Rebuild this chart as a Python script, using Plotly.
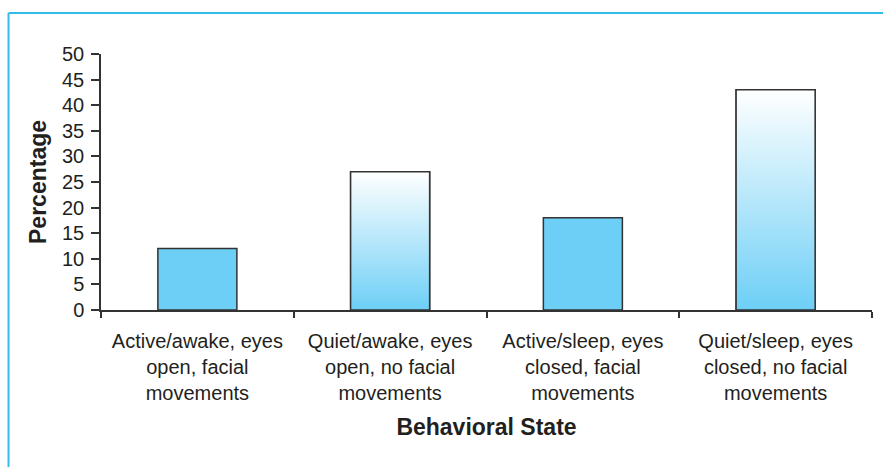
import plotly.graph_objects as go

# ---- data ----
categories = [
    "Active/awake, eyes<br>open, facial<br>movements",
    "Quiet/awake, eyes<br>open, no facial<br>movements",
    "Active/sleep, eyes<br>closed, facial<br>movements",
    "Quiet/sleep, eyes<br>closed, no facial<br>movements",
]
values = [12, 27, 18, 43]
gradient_flags = [False, True, False, True]
y_tick_vals = [0, 5, 10, 15, 20, 25, 30, 35, 40, 45, 50]
x_title = "Behavioral State"
y_title = "Percentage"

# ---- style ----
SOLID = "#6dcff6"
EDGE = "#333333"
TEXT = "#231f20"
FRAME = "#33bbea"
FONT = "Liberation Sans, Arial, Helvetica, sans-serif"
BAR_W = 0.41

W, H = 883, 467
ML, MR, MT, MB = 101, 11, 54, 157
PW, PH = W - ML - MR, H - MT - MB

fig = go.Figure()

fig.add_trace(go.Bar(
    x=categories, y=values, width=BAR_W,
    marker=dict(color=[("rgba(0,0,0,0)" if g else SOLID) for g in gradient_flags],
                line=dict(color=EDGE, width=1.5)),
    showlegend=False,
))

for i, (v, g) in enumerate(zip(values, gradient_flags)):
    if not g:
        continue
    x0, x1 = i - BAR_W / 2, i + BAR_W / 2
    fig.add_trace(go.Scatter(
        x=[x0, x1, x1, x0, x0], y=[0, 0, v, v, 0],
        xaxis="x2", yaxis="y", mode="lines", fill="toself",
        fillgradient=dict(type="vertical",
                          colorscale=[[0, SOLID], [1, "#ffffff"]],
                          start=0, stop=v),
        line=dict(color=EDGE, width=1.5),
        hoverinfo="skip", showlegend=False,
    ))

# frame lines (top and left) in pixel -> paper coords
def px_x(px):
    return (px - ML) / PW

def px_y(py):
    return (H - MB - py) / PH

frame_x, frame_y = 8.5, 13
fig.add_shape(type="line", xref="paper", yref="paper",
              x0=px_x(frame_x), x1=px_x(W + 5), y0=px_y(frame_y), y1=px_y(frame_y),
              line=dict(color=FRAME, width=2))
fig.add_shape(type="line", xref="paper", yref="paper",
              x0=px_x(frame_x), x1=px_x(frame_x), y0=px_y(frame_y), y1=px_y(H + 5),
              line=dict(color=FRAME, width=2))

fig.update_layout(
    width=W, height=H,
    margin=dict(l=ML, r=MR, t=MT, b=MB, pad=0),
    paper_bgcolor="white", plot_bgcolor="white",
    font=dict(family=FONT, color=TEXT, size=20),
    xaxis=dict(
        type="category", range=[-0.5, 3.5],
        showline=True, linecolor=EDGE, linewidth=1.5,
        ticks="outside", ticklen=6, tickwidth=1.5, tickcolor=EDGE,
        tickson="boundaries", showgrid=False, zeroline=False,
        tickfont=dict(size=20, color=TEXT),
        ticklabelstandoff=12,
        title=dict(text="<b>" + x_title + "</b>", font=dict(size=23, color=TEXT), standoff=16),
        automargin=False,
    ),
    xaxis2=dict(overlaying="x", range=[-0.5, 3.5], visible=False, showgrid=False, zeroline=False),
    yaxis=dict(
        range=[0, 50], tickvals=y_tick_vals,
        showline=True, linecolor=EDGE, linewidth=1.5,
        ticks="outside", ticklen=8, tickwidth=1.5, tickcolor=EDGE,
        showgrid=False, zeroline=False,
        tickfont=dict(size=20, color=TEXT),
        ticklabelstandoff=3,
        title=dict(text="<b>" + y_title + "</b>", font=dict(size=23, color=TEXT), standoff=9),
        automargin=False,
    ),
)

fig.write_html("out.html")
